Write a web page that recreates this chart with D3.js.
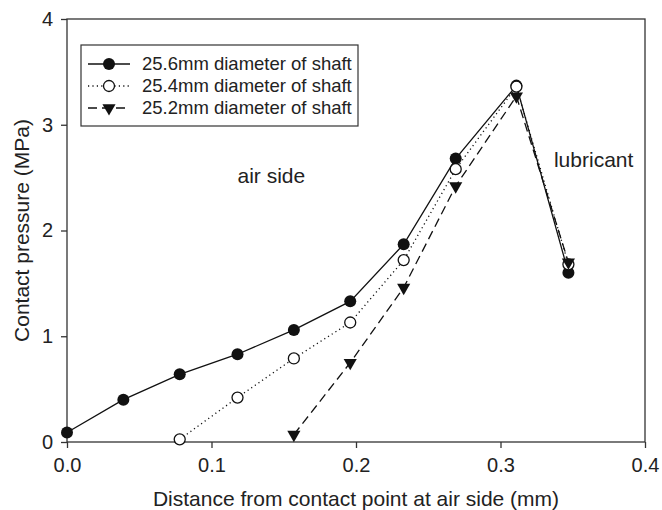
<!DOCTYPE html>
<html>
<head>
<meta charset="utf-8">
<script src="https://cdn.jsdelivr.net/npm/d3@7"></script>
<style>
  body { margin: 0; background: #fff; }
  text { font-family: "Liberation Sans", Arial, sans-serif; fill: #222; }
</style>
</head>
<body>
<div id="chart-area"></div>
<script>
// values
const xPos = [0, 0.039, 0.078, 0.118, 0.157, 0.196, 0.233, 0.269, 0.311, 0.347];
const shaft256 = [0.09, 0.40, 0.64, 0.83, 1.06, 1.33, 1.87, 2.68, 3.37, 1.60];
const shaft254 = [null, null, 0.025, 0.42, 0.79, 1.13, 1.72, 2.58, 3.36, 1.68];
const shaft252 = [null, null, null, null, 0.07, 0.75, 1.46, 2.42, 3.27, 1.70];
const seriesNames = ["25.6mm diameter of shaft", "25.4mm diameter of shaft", "25.2mm diameter of shaft"];
const xTicks = [0, 0.1, 0.2, 0.3, 0.4];
const yTicks = [0, 1, 2, 3, 4];

const width = 662;
const height = 510;
const margin = {left: 67, top: 19, right: 17, bottom: 68};
const innerWidth = width - margin.left - margin.right;
const innerHeight = height - margin.top - margin.bottom;

const svg = d3.select("#chart-area")
    .append("svg")
    .attr("width", width)
    .attr("height", height);

const g = svg.append("g")
    .attr("transform", `translate(${margin.left},${margin.top})`);

const xScale = d3.scaleLinear().domain([0, 0.4]).range([0, innerWidth]);
const yScale = d3.scaleLinear().domain([0, 4]).range([innerHeight, 0]);

// frame
g.append("rect")
    .attr("width", innerWidth)
    .attr("height", innerHeight)
    .attr("fill", "none")
    .attr("stroke", "#333")
    .attr("stroke-width", 1.3);

// axes
const xAxis = g.append("g")
    .attr("transform", `translate(0,${innerHeight})`)
    .call(d3.axisBottom(xScale).tickValues(xTicks).tickFormat(d3.format(".1f")).tickSize(6).tickPadding(10));
const yAxis = g.append("g")
    .call(d3.axisLeft(yScale).tickValues(yTicks).tickFormat(d3.format("d")).tickSize(6).tickPadding(8));

[xAxis, yAxis].forEach(a => {
    a.select(".domain").remove();
    a.selectAll("line").attr("stroke", "#333").attr("stroke-width", 1.3);
    a.selectAll("text").attr("font-size", 20).attr("fill", "#222")
        .style("font-family", "'Liberation Sans', Arial, sans-serif");
});

// axis titles
g.append("text")
    .attr("x", innerWidth / 2)
    .attr("y", innerHeight + 64)
    .attr("text-anchor", "middle")
    .attr("font-size", 21)
    .text("Distance from contact point at air side (mm)");

g.append("text")
    .attr("transform", "rotate(-90)")
    .attr("x", -innerHeight / 2)
    .attr("y", -38)
    .attr("text-anchor", "middle")
    .attr("font-size", 21)
    .text("Contact pressure (MPa)");

// annotations
g.append("text").attr("x", xScale(0.118)).attr("y", yScale(2.45))
    .attr("font-size", 21).text("air side");
g.append("text").attr("x", xScale(0.337)).attr("y", yScale(2.6))
    .attr("font-size", 21).text("lubricant");

const series = [
    {name: seriesNames[0], values: shaft256, dash: null, marker: "filled"},
    {name: seriesNames[1], values: shaft254, dash: "1.2,3.2", marker: "open"},
    {name: seriesNames[2], values: shaft252, dash: "9,5", marker: "tri"}
];

const line = d3.line()
    .defined(d => d.y != null)
    .x(d => xScale(d.x))
    .y(d => yScale(d.y));

const triPath = d3.symbol().type(d3.symbolTriangle).size(75)();

function drawMarker(sel, type) {
    if (type === "filled") {
        sel.append("circle").attr("r", 6).attr("fill", "#111");
    } else if (type === "open") {
        sel.append("circle").attr("r", 5.5).attr("fill", "#fff")
            .attr("stroke", "#111").attr("stroke-width", 1.3);
    } else {
        sel.append("path").attr("d", triPath).attr("transform", "rotate(180)")
            .attr("fill", "#111");
    }
}

series.forEach(s => {
    const pts = xPos.map((x, i) => ({x: x, y: s.values[i]})).filter(d => d.y != null);
    g.append("path")
        .datum(pts)
        .attr("d", line)
        .attr("fill", "none")
        .attr("stroke", "#111")
        .attr("stroke-width", 1.3)
        .attr("stroke-dasharray", s.dash);
    const m = g.selectAll(null)
        .data(pts)
        .enter()
        .append("g")
        .attr("transform", d => `translate(${xScale(d.x)},${yScale(d.y)})`);
    drawMarker(m, s.marker);
});

// legend
const legend = g.append("g").attr("transform", "translate(14,26)");
legend.append("rect")
    .attr("width", 277)
    .attr("height", 81)
    .attr("fill", "#fff")
    .attr("stroke", "#333")
    .attr("stroke-width", 1.2);

series.forEach((s, i) => {
    const row = legend.append("g").attr("transform", `translate(0,${19 + i * 22})`);
    row.append("line")
        .attr("x1", 7).attr("x2", 49)
        .attr("stroke", "#111").attr("stroke-width", 1.3)
        .attr("stroke-dasharray", s.dash);
    const mk = row.append("g").attr("transform", "translate(28,0)");
    drawMarker(mk, s.marker);
    row.append("text")
        .attr("x", 61)
        .attr("dy", "0.35em")
        .attr("font-size", 18.5)
        .text(s.name);
});
</script>
</body>
</html>
